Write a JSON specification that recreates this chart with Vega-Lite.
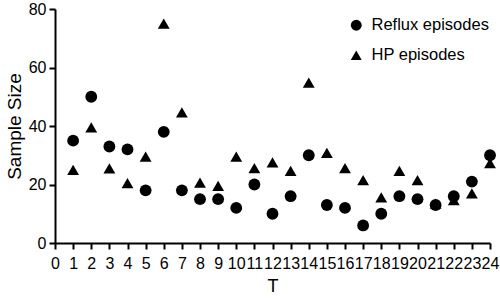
{
  "$schema": "https://vega.github.io/schema/vega-lite/v6.json",
  "autosize": "none",
  "width": 435,
  "height": 234,
  "padding": {"left": 55, "top": 9, "right": 10, "bottom": 56},
  "background": "white",
  "config": {
    "view": {"stroke": null},
    "font": "Liberation Sans",
    "axis": {
      "domainColor": "black", "domainWidth": 2, "tickColor": "black", "tickWidth": 2, "tickSize": 6,
      "labelColor": "black", "labelFont": "Liberation Sans", "titleColor": "black", "titleFont": "Liberation Sans",
      "titleFontWeight": "normal", "grid": false
    }
  },
  "data": {"values": [
    {"T":1,"series":"HP episodes","value":25},{"T":2,"series":"HP episodes","value":39.5},{"T":3,"series":"HP episodes","value":25.5},
    {"T":4,"series":"HP episodes","value":20.5},{"T":5,"series":"HP episodes","value":29.5},{"T":6,"series":"HP episodes","value":75},
    {"T":7,"series":"HP episodes","value":44.7},{"T":8,"series":"HP episodes","value":20.6},{"T":9,"series":"HP episodes","value":19.5},
    {"T":10,"series":"HP episodes","value":29.5},{"T":11,"series":"HP episodes","value":25.6},{"T":12,"series":"HP episodes","value":27.6},
    {"T":13,"series":"HP episodes","value":24.7},{"T":14,"series":"HP episodes","value":54.8},{"T":15,"series":"HP episodes","value":30.8},
    {"T":16,"series":"HP episodes","value":25.6},{"T":17,"series":"HP episodes","value":21.5},{"T":18,"series":"HP episodes","value":15.6},
    {"T":19,"series":"HP episodes","value":24.7},{"T":20,"series":"HP episodes","value":21.5},{"T":21,"series":"HP episodes","value":13.5},
    {"T":22,"series":"HP episodes","value":14.7},{"T":23,"series":"HP episodes","value":17},{"T":24,"series":"HP episodes","value":27.3},
    {"T":1,"series":"Reflux episodes","value":35},{"T":2,"series":"Reflux episodes","value":50},{"T":3,"series":"Reflux episodes","value":33},
    {"T":4,"series":"Reflux episodes","value":32},{"T":5,"series":"Reflux episodes","value":18},{"T":6,"series":"Reflux episodes","value":38},
    {"T":7,"series":"Reflux episodes","value":18},{"T":8,"series":"Reflux episodes","value":15},{"T":9,"series":"Reflux episodes","value":15},
    {"T":10,"series":"Reflux episodes","value":12},{"T":11,"series":"Reflux episodes","value":20},{"T":12,"series":"Reflux episodes","value":10},
    {"T":13,"series":"Reflux episodes","value":16},{"T":14,"series":"Reflux episodes","value":30},{"T":15,"series":"Reflux episodes","value":13},
    {"T":16,"series":"Reflux episodes","value":12},{"T":17,"series":"Reflux episodes","value":6},{"T":18,"series":"Reflux episodes","value":10},
    {"T":19,"series":"Reflux episodes","value":16},{"T":20,"series":"Reflux episodes","value":15},{"T":21,"series":"Reflux episodes","value":13},
    {"T":22,"series":"Reflux episodes","value":16},{"T":23,"series":"Reflux episodes","value":21},{"T":24,"series":"Reflux episodes","value":30}
  ]},
  "mark": {"type": "point", "filled": true, "color": "black", "opacity": 1, "size": 140},
  "encoding": {
    "x": {"field": "T", "type": "quantitative", "scale": {"domain": [0, 24], "nice": false, "zero": false},
      "axis": {"values": [0,1,2,3,4,5,6,7,8,9,10,11,12,13,14,15,16,17,18,19,20,21,22,23,24], "labelFontSize": 16, "labelPadding": 6, "labelFlush": false, "labelOverlap": false, "titleFontSize": 18, "titlePadding": 6, "title": "T"}},
    "y": {"field": "value", "type": "quantitative", "scale": {"domain": [0, 80], "nice": false},
      "axis": {"values": [0,20,40,60,80], "labelFontSize": 16, "labelPadding": 3, "labelFlush": false, "titleFontSize": 19, "titlePadding": 4, "title": "Sample Size"}},
    "shape": {"field": "series", "type": "nominal",
      "scale": {"domain": ["Reflux episodes", "HP episodes"], "range": ["circle", "triangle-up"]},
      "legend": {"title": null, "orient": "none", "legendX": 293, "legendY": 8, "labelFontSize": 16.5, "labelColor": "black", "symbolFillColor": "black", "symbolStrokeColor": "black", "symbolSize": 120, "symbolType": "circle", "rowPadding": 13, "labelOffset": 7, "padding": 0}}
  }
}
